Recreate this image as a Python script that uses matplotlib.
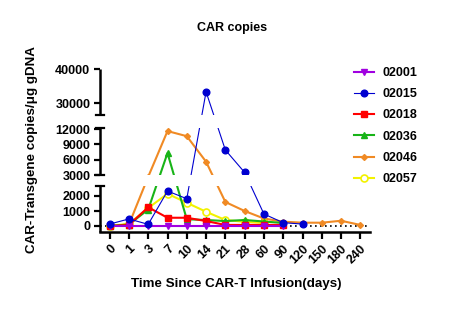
import numpy as np
import matplotlib
matplotlib.use("Agg")
import matplotlib.pyplot as plt
from matplotlib.patches import Rectangle
from matplotlib.lines import Line2D

plt.rcParams['font.family'] = ['Liberation Sans', 'DejaVu Sans']
plt.rcParams['font.weight'] = 'bold'

# ---- data ----
days = ["0", "1", "3", "7", "10", "14", "21", "28", "60", "90", "120", "150", "180", "240"]
p02001 = [10, 10, 10, 10, 10, 10, 10, 10, 10, 10]
p02015 = [130, 470, 110, 2330, 1820, 33300, 7900, 3500, 800, 220, 130]
p02018 = [0, 70, 1250, 550, 550, 330, 70, 70, 70, 70]
p02036 = [0, 100, 1100, 7300, 450, 400, 330, 400, 300, 200]
p02046 = [0, 100, 2950, 11600, 10600, 5600, 1600, 1000, 500, 290, 220, 220, 350, 70]
p02057 = [0, 150, 1200, 2150, 1550, 950, 400, 280, 200]

series = [
    ("02046", p02046, dict(color="#F08A24", marker="D", ms=3.0, lw=1.5, mfc="#F08A24")),
    ("02057", p02057, dict(color="#F2F200", marker="o", ms=5, lw=1.5, mfc="white", mew=1.2)),
    ("02036", p02036, dict(color="#18B418", marker="^", ms=4.5, lw=1.5)),
    ("02018", p02018, dict(color="#FF0000", marker="s", ms=4.5, lw=1.5)),
    ("02001", p02001, dict(color="#A000E0", marker="v", ms=4.5, lw=1.5)),
    ("02015", p02015, dict(color="#0000D0", marker="o", ms=4.8, lw=0.8)),
]
legend_order = ["02001", "02015", "02018", "02036", "02046", "02057"]

W, H = 461, 312
fig = plt.figure(figsize=(W / 100, H / 100), dpi=100)
ax = fig.add_axes([100 / W, 80 / H, 270 / W, 163 / H])

VB = np.array([-400, 2700, 3000, 12300, 26500, 40000.])
PB = np.array([0, 46.5, 57, 104.5, 117, 163.])
def fwd(v):
    return np.interp(v, VB, PB)
def inv(p):
    return np.interp(p, PB, VB)
ax.set_yscale('function', functions=(fwd, inv))

handles = {}
x = np.arange(len(days))
for name, vals, st in series:
    ln, = ax.plot(x[:len(vals)], vals, label=name, zorder=2, **st)
    handles[name] = ln

ax.axhline(0, ls=(0, (1, 2)), color="black", lw=1.2, zorder=1)

ax.set_ylim(-400, 40000)
ax.set_xlim(-0.5, len(days) - 0.5)
ax.set_xticks(x)
ax.set_xticklabels(days, rotation=45, ha="right", rotation_mode="anchor")
ax.set_yticks([0, 1000, 2000, 3000, 6000, 9000, 12000, 30000, 40000])
ax.set_yticklabels(["0", "1000", "2000", "3000", "6000", "9000", "12000", "30000", "40000"])
ax.minorticks_off()
ax.tick_params(axis='y', length=4, width=1.6, pad=3, labelsize=9)
ax.tick_params(axis='x', length=5, width=1.6, pad=3, labelsize=9)
for s in ["top", "right", "left"]:
    ax.spines[s].set_visible(False)
ax.spines["bottom"].set_linewidth(1.8)

# gaps
for lo, hi in [(46.5, 57), (104.5, 117)]:
    ax.add_patch(Rectangle((0, lo / 163), 1, (hi - lo) / 163, transform=ax.transAxes,
                           facecolor="white", edgecolor="none", zorder=2.5))
# y spine segments
segs = [(0, 46.5), (57, 104.5), (117, 163)]
for lo, hi in segs:
    ax.add_line(Line2D([0, 0], [lo / 163, hi / 163], transform=ax.transAxes, color="black",
                       lw=1.8, clip_on=False, zorder=3, solid_capstyle="butt"))
cw = 4 / 270
for yv in [46.5, 57, 104.5, 117]:
    ax.add_line(Line2D([-cw, cw], [yv / 163, yv / 163], transform=ax.transAxes, color="black",
                       lw=1.6, clip_on=False, zorder=3))

leg = fig.legend([handles[n] for n in legend_order], legend_order,
                 loc="upper left", bbox_to_anchor=(354 / W, 1 - 67 / H), frameon=False,
                 fontsize=9, handlelength=1.6, handletextpad=0.7, labelspacing=0.74,
                 borderpad=0, borderaxespad=0)
leg.set_zorder(10)

fig.text(232 / W, 1 - 28 / H, "CAR copies", ha="center", va="center", fontsize=9, fontweight="bold")
fig.text(236 / W, 1 - 284 / H, "Time Since CAR-T Infusion(days)", ha="center", va="center",
         fontsize=9.6, fontweight="bold")
fig.text(32 / W, 1 - 150 / H, "CAR-Transgene copies/μg gDNA", ha="center", va="center",
         rotation=90, fontsize=9.6, fontweight="bold")

fig.savefig("out.png", dpi=100, facecolor="white")
